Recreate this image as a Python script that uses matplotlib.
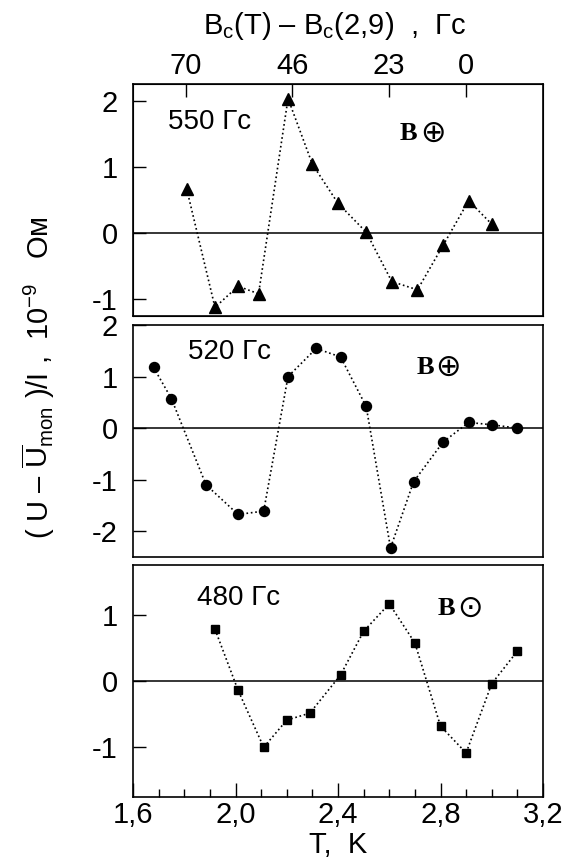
import matplotlib
matplotlib.use("Agg")
import matplotlib.pyplot as plt

plt.rcParams['font.family'] = ['Liberation Sans', 'DejaVu Sans']
plt.rcParams['mathtext.fontset'] = 'custom'
plt.rcParams['mathtext.rm'] = 'Liberation Sans'
plt.rcParams['mathtext.it'] = 'Liberation Sans:italic'
plt.rcParams['axes.unicode_minus'] = False

# panel 550 Gs (triangles)
T_550 = [1.81, 1.92, 2.01, 2.09, 2.205, 2.30, 2.40, 2.51, 2.61, 2.71, 2.81, 2.91, 3.00]
V_550 = [0.66, -1.12, -0.80, -0.915, 2.03, 1.04, 0.45, 0.015, -0.73, -0.855, -0.185, 0.49, 0.135]

# panel 520 Gs (circles)
T_520 = [1.68, 1.75, 1.885, 2.01, 2.11, 2.205, 2.315, 2.41, 2.51, 2.605, 2.695, 2.81, 2.91, 3.00, 3.10]
V_520 = [1.18, 0.57, -1.10, -1.675, -1.61, 1.0, 1.545, 1.38, 0.42, -2.325, -1.04, -0.27, 0.11, 0.065, 0.0]

# panel 480 Gs (squares)
T_480 = [1.92, 2.01, 2.11, 2.20, 2.29, 2.41, 2.50, 2.60, 2.70, 2.80, 2.90, 3.00, 3.10]
V_480 = [0.78, -0.14, -1.0, -0.59, -0.485, 0.09, 0.75, 1.165, 0.575, -0.68, -1.085, -0.04, 0.45]

x_ticks = [1.6, 2.0, 2.4, 2.8, 3.2]
x_ticklabels = ["1,6", "2,0", "2,4", "2,8", "3,2"]
top_ticks = [1.806, 2.222, 2.60, 2.90]
top_ticklabels = ["70", "46", "23", "0"]

panels = [
    (T_550, V_550, '^', 8.6, (-1.25, 2.25), [-1, 0, 1, 2], "550 Гс", 1.68, "⊕", (2.673, 2.771, 1.5)),
    (T_520, V_520, 'o', 7.2, (-2.5, 2.0), [-2, -1, 0, 1, 2], "520 Гс", 1.48, "⊕", (2.74, 2.829, 1.17)),
    (T_480, V_480, 's', 6.0, (-1.75, 1.75), [-1, 0, 1], "480 Гс", 1.25, "⊙", (2.825, 2.915, 1.10)),
]
label_x = [1.737, 1.815, 1.85]

fig = plt.figure(figsize=(5.67, 8.59), dpi=100)
left, width, height = 133 / 567, 410 / 567, 232 / 859
bottoms = [1 - 316 / 859, 1 - 557 / 859, 1 - 797 / 859]

axes = []
for i, (T, V, mk, ms, ylim, yt, name, name_y, sym, bpos) in enumerate(panels):
    ax = fig.add_axes([left, bottoms[i], width, height])
    ax.plot(T, V, linestyle=':', color='black', lw=1.2, marker=mk, ms=ms,
            markerfacecolor='black', markeredgecolor='black')
    ax.axhline(0, color='black', lw=1.1, zorder=0)
    ax.set_xlim(1.6, 3.2)
    ax.set_ylim(*ylim)
    ax.set_yticks(yt)
    ax.set_yticklabels([str(v) for v in yt])
    ax.tick_params(axis='y', direction='in', length=9, width=1, labelsize=21, pad=11)
    for s in ax.spines.values():
        s.set_linewidth(1.2)
    ax.text(label_x[i], name_y, name, fontsize=20, ha='left', va='center')
    ax.text(bpos[0], bpos[2], "B", fontsize=19, fontweight='bold',
            family='Liberation Serif', ha='center', va='center')
    ax.text(bpos[1], bpos[2], sym, fontsize=22, family='DejaVu Sans',
            ha='center', va='center')
    if i < 2:
        ax.set_xticks([])
    axes.append(ax)

# bottom axis
axb = axes[2]
axb.set_xticks(x_ticks)
axb.set_xticklabels(x_ticklabels)
axb.set_xticks([1.7, 1.8, 1.9, 2.1, 2.2, 2.3, 2.5, 2.6, 2.7, 2.9, 3.0, 3.1], minor=True)
axb.tick_params(axis='x', which='major', direction='in', length=10, width=1, labelsize=21, pad=3)
axb.tick_params(axis='x', which='minor', direction='in', length=6, width=1)
axb.set_xlabel("T,  K", fontsize=21, labelpad=1)

# top axis of the upper panel
axt = axes[0].twiny()
axt.set_xlim(1.6, 3.2)
axt.set_xticks(top_ticks)
axt.set_xticklabels(top_ticklabels)
axt.tick_params(axis='x', direction='in', length=9, width=1, labelsize=21, pad=3)

fig.text(334 / 567, 1 - 26 / 859, r"B$_{\rm c}$(T) – B$_{\rm c}$(2,9)  ,  Гс",
         fontsize=21, ha='center', va='center')
fig.text(38 / 567, 1 - 378 / 859,
         r"( U – $\overline{\rm U}_{\rm mon}$ )/I ,  10$^{-9}$   Ом",
         fontsize=21, rotation=90, ha='center', va='center')

fig.savefig("out.png", dpi=100)
